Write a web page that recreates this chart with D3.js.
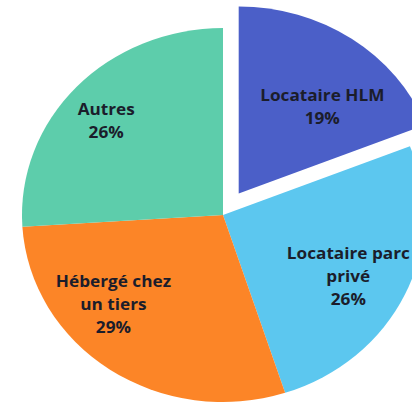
<!DOCTYPE html>
<html>
<head>
<meta charset="utf-8">
<script src="https://cdn.jsdelivr.net/npm/d3@7"></script>
<style>
  html, body { margin: 0; padding: 0; background: #fff; }
  svg { display: block; }
</style>
</head>
<body>
<div id="chart"></div>
<script>
// data
var categories = ['Locataire HLM', 'Locataire parc privé', 'Hébergé chez un tiers', 'Autres'];
var labelLines = [['Locataire HLM'], ['Locataire parc', 'privé'], ['Hébergé chez', 'un tiers'], ['Autres']];
var values = [19, 26, 29, 26];
var exploded = [true, false, false, false];

// layout
var width = 412, height = 404;
var cx = 223, cy = 215;
var radius = 187;
var stretchX = 1.075;          // the original image is a bit wider than tall
var explodeDist = 26;
var labelRadius = 135;
var labelNudge = [[2, 25], [-6, 4], [-28, -22], [-11, -2]];
var lineHeight = 23;
var colors = d3.scaleOrdinal().domain(categories).range(['#4b5fc8', '#5cc7ef', '#fc8527', '#5dcdab']);

var data = categories.map(function (c, i) {
    return { segment: c, value: values[i], lines: labelLines[i], exploded: exploded[i] };
});
var total = d3.sum(values);

var svg = d3.select('#chart').append('svg')
    .attr('width', width)
    .attr('height', height);

var pie = d3.pie()
    .value(function (d) { return d.value; })
    .sort(null);

var arc = d3.arc()
    .innerRadius(0)
    .outerRadius(radius);

var slices = pie(data);

// offset of a slice along its mid angle (in unscaled pie space)
var sliceOffset = function (d) {
    if (!d.data.exploded) return [0, 0];
    var a = (d.startAngle + d.endAngle) / 2;
    return [Math.sin(a) * explodeDist, -Math.cos(a) * explodeDist];
};

var pieGroup = svg.append('g')
    .attr('transform', 'translate(' + cx + ',' + cy + ') scale(' + stretchX + ',1)');

pieGroup.selectAll('path')
    .data(slices)
    .enter()
    .append('path')
    .attr('d', arc)
    .attr('transform', function (d) {
        var o = sliceOffset(d);
        return 'translate(' + o[0] + ',' + o[1] + ')';
    })
    .attr('fill', function (d) { return colors(d.data.segment); });

// labels, stretched the same way as the picture
var labelArc = d3.arc().innerRadius(labelRadius).outerRadius(labelRadius);

var labels = svg.append('g')
    .selectAll('text')
    .data(slices)
    .enter()
    .append('text')
    .attr('text-anchor', 'middle')
    .attr('font-family', '"Open Sans", sans-serif')
    .attr('font-weight', 'bold')
    .attr('font-size', 16)
    .attr('fill', '#1b1d2b')
    .attr('transform', function (d, i) {
        var c = labelArc.centroid(d);
        var o = sliceOffset(d);
        var x = cx + (c[0] + o[0]) * stretchX + labelNudge[i][0];
        var y = cy + c[1] + o[1] + labelNudge[i][1];
        return 'translate(' + x + ',' + y + ') scale(' + stretchX + ',1)';
    });

labels.each(function (d) {
    var lines = d.data.lines.concat([Math.round(100 * d.data.value / total) + '%']);
    var t = d3.select(this);
    var top = -(lines.length - 1) * lineHeight / 2;
    lines.forEach(function (line, k) {
        t.append('tspan')
            .attr('x', 0)
            .attr('y', top + k * lineHeight)
            .attr('dy', '0.35em')
            .text(line);
    });
});
</script>
</body>
</html>
